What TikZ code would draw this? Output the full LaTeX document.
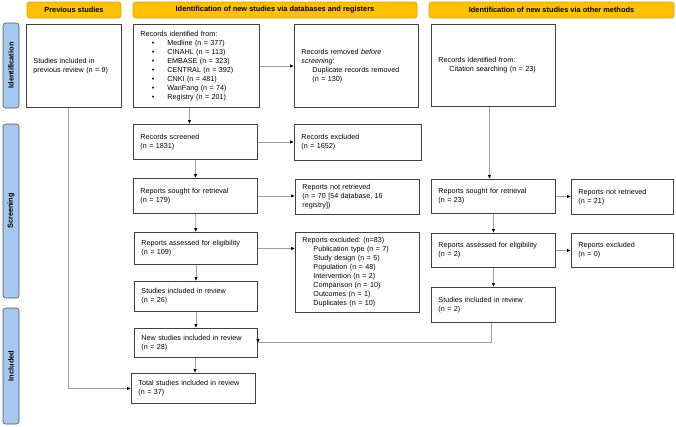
\documentclass[tikz,border=0pt]{standalone}
\usepackage{fontspec}
\setmainfont{Liberation Sans}
\usetikzlibrary{arrows.meta,positioning}
\frenchspacing
\definecolor{hdr}{HTML}{FFC000}
\definecolor{hdrb}{HTML}{D9A300}
\definecolor{side}{HTML}{A4C8EE}
\definecolor{sideb}{HTML}{505860}
\definecolor{bx}{HTML}{404040}
\definecolor{ln}{HTML}{A0A0A0}
\tikzset{
  hdrbox/.style={draw=hdrb, fill=hdr, rounded corners=2.5pt, line width=0.6pt, font=\fontsize{7.4}{8}\selectfont\bfseries, inner sep=0pt},
  sidebox/.style={draw=sideb, fill=side, rounded corners=2.5pt, line width=0.6pt, inner sep=0pt},
  sidetxt/.style={font=\fontsize{7.4}{8}\selectfont\bfseries, rotate=90},
  flowbox/.style={draw=bx, line width=0.9pt, fill=white, anchor=north west, inner xsep=7pt, inner ysep=0pt, align=left, font=\fontsize{7.2}{9}\selectfont},
  conn/.style={draw=ln, line width=0.8pt, -{Latex[length=4pt,width=3.5pt,black]}},
  plain/.style={draw=ln, line width=0.8pt}
}
\newcommand{\mkbox}[6]{% name, x1, y1, x2, y2, text
  \pgfmathsetmacro{\bw}{#4-#2}\pgfmathsetmacro{\bh}{#5-#3}\pgfmathsetmacro{\tw}{#4-#2-14}
  \node[flowbox, minimum width=\bw pt, minimum height=\bh pt, text width=\tw pt] (#1) at (#2,#3) {#6};}
\newcommand{\bul}[1]{\makebox[11.5pt][l]{}\makebox[15.5pt][l]{\textbullet}#1}
\newcommand{\ind}{\hspace*{11pt}}
\begin{document}
\begin{tikzpicture}[x=1pt,y=-1pt]
\useasboundingbox (0,0) rectangle (676,426);
% headers
\node[hdrbox, minimum width=94pt, minimum height=16pt] (h1) at (74,10) {Previous studies};
\node[hdrbox, minimum width=284pt, minimum height=16pt] (h2) at (275,10) {Identification of new studies via databases and registers};
\node[hdrbox, minimum width=245pt, minimum height=16pt] (h3) at (551.5,10) {Identification of new studies via other methods};
% side bars
\node[sidebox, minimum width=16pt, minimum height=85pt] (s1) at (11,65.5) {};
\node[sidetxt] at (s1) {Identification};
\node[sidebox, minimum width=16pt, minimum height=174pt] (s2) at (11,211) {};
\node[sidetxt] at (s2) {Screening};
\node[sidebox, minimum width=16pt, minimum height=116pt] (s3) at (11,366) {};
\node[sidetxt] at (s3) {Included};
% boxes
\mkbox{prev}{26}{24}{121}{107}{Studies included in\\previous review (n = 9)}
\mkbox{ident}{133}{24}{259}{107}{Records identified from:\\
\bul{Medline (n = 377)}\\
\bul{CINAHL (n = 113)}\\
\bul{EMBASE (n = 323)}\\
\bul{CENTRAL (n = 392)}\\
\bul{CNKI (n = 481)}\\
\bul{WanFang (n = 74)}\\
\bul{Registry (n = 201)}}
\mkbox{removed}{294}{24}{418}{107}{Records removed \emph{before}\\\emph{screening}:\\\ind Duplicate records removed\\\ind (n = 130)}
\mkbox{oident}{431}{24}{555}{106}{Records identified from:\\\ind Citation searching (n = 23)}
\mkbox{screened}{133}{124}{257}{159}{Records screened\\(n = 1831)}
\mkbox{excl}{294}{124}{421}{160}{Records excluded\\(n = 1652)}
\mkbox{sought}{133}{178}{257}{213}{Reports sought for retrieval\\(n = 179)}
\mkbox{notret}{295}{179}{419}{214}{Reports not retrieved\\(n = 70 [54 database, 16\\registry])}
\mkbox{osought}{431}{179}{555}{213}{Reports sought for retrieval\\(n = 23)}
\mkbox{onotret}{571}{179}{673}{214}{Reports not retrieved\\(n = 21)}
\mkbox{assess}{134}{232}{257}{264}{Reports assessed for eligibility\\(n = 109)}
\mkbox{rexcl}{295}{232}{419}{312}{Reports excluded: (n=83)\\\ind Publication type (n = 7)\\\ind Study design (n = 5)\\\ind Population (n = 48)\\\ind Intervention (n = 2)\\\ind Comparison (n = 10)\\\ind Outcomes (n = 1)\\\ind Duplicates (n = 10)}
\mkbox{oassess}{431}{233}{555}{267}{Reports assessed for eligibility\\(n = 2)}
\mkbox{orexcl}{571}{233}{673}{267}{Reports excluded\\(n = 0)}
\mkbox{incl}{134}{281}{257}{311}{Studies included in review\\(n = 26)}
\mkbox{oincl}{431}{287}{555}{322}{Studies included in review\\(n = 2)}
\mkbox{newincl}{134}{328}{257}{357}{New studies included in review\\(n = 28)}
\mkbox{total}{131}{373}{255}{403}{Total studies included in review\\(n = 37)}
% connectors
\coordinate (pb) at ([xshift=-5.5pt]prev.south);
\draw[conn] (pb) |- (total.west);
\draw[conn] (ident.east |- 0,66) -- (removed.west |- 0,66);
\draw[conn] ([xshift=-7pt]ident.south) -- ([xshift=-7pt]ident.south |- screened.north);
\draw[conn] (screened) -- (excl.west |- screened);
\draw[conn] (screened) -- (sought);
\draw[conn] (sought) -- (notret.west |- sought);
\draw[conn] (sought) -- (assess);
\draw[conn] (assess) -- (rexcl.west |- assess);
\draw[conn] (assess.south -| incl) -- (incl);
\draw[conn] (incl) -- (newincl);
\draw[conn] (newincl.south -| 195,0) -- (195,373);
\draw[conn] ([xshift=-4pt]oident.south) -- ([xshift=-4pt]oident.south |- osought.north);
\draw[conn] (osought) -- (onotret.west |- osought);
\draw[conn] (osought) -- (oassess);
\draw[conn] (oassess) -- (orexcl.west |- oassess);
\draw[conn] (oassess) -- (oincl);
\coordinate (ob) at ([xshift=-2pt]oincl.south);
\draw[conn] (ob) |- (newincl.east |- 0,342) -- (newincl.east);
\end{tikzpicture}
\end{document}
